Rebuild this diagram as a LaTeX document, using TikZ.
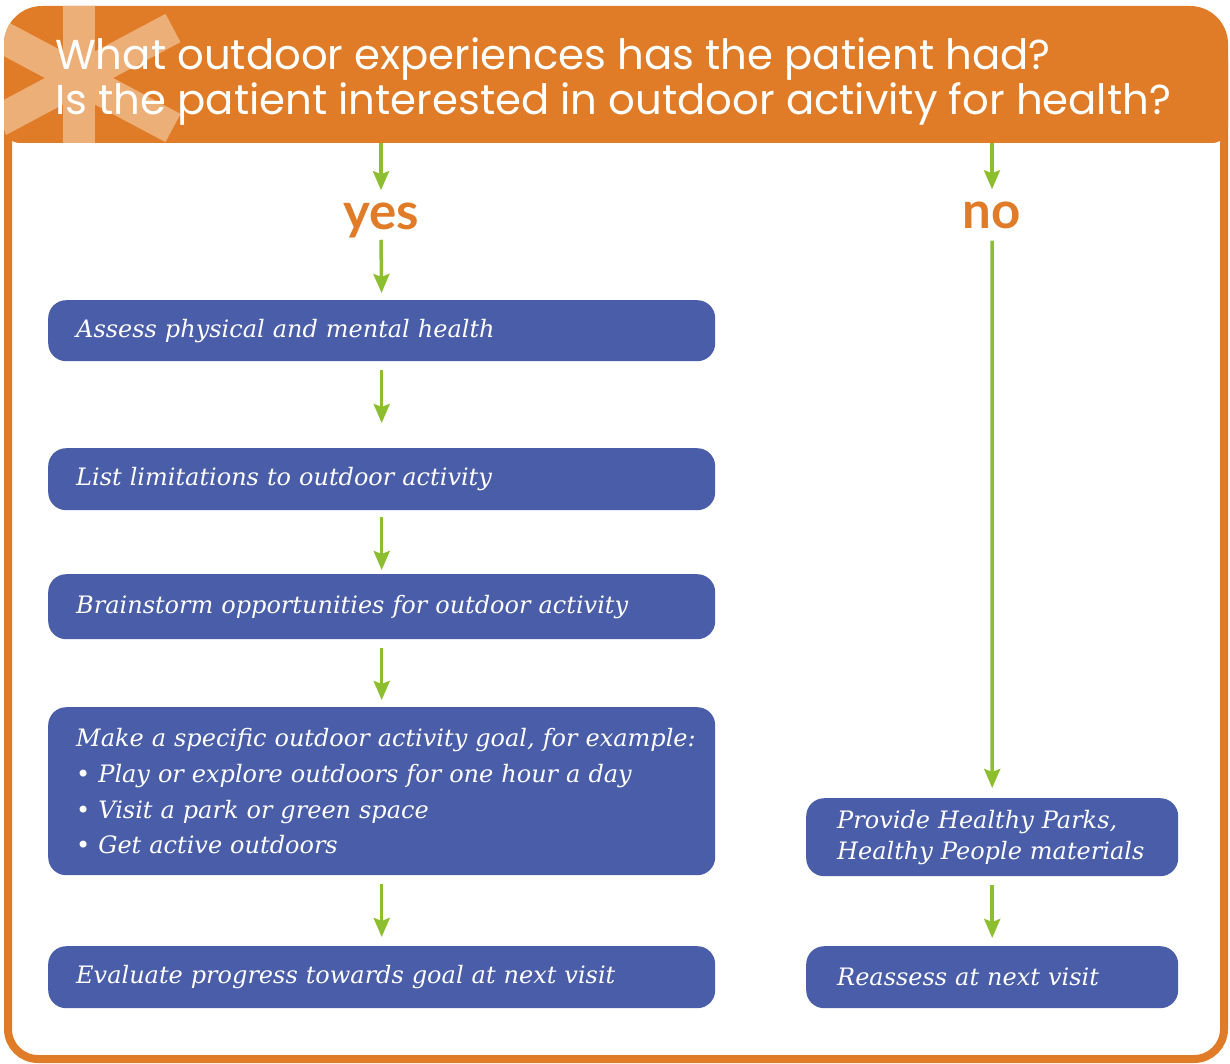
\documentclass[tikz,border=0pt]{standalone}
\usepackage{fontspec}
\setmainfont{DejaVu Serif}
\newfontfamily\headfont{Lato}
\newfontfamily\titlefont{Poppins}
\usetikzlibrary{arrows.meta}
\definecolor{parkorange}{HTML}{E07B27}
\definecolor{starorange}{HTML}{EDAF78}
\definecolor{stepblue}{HTML}{4A5DA8}
\definecolor{arrowgreen}{HTML}{8DBE2F}
\def\headpath{(4,127) -- (4,44) arc[start angle=180,end angle=270,radius=38] -- (1190,6) arc[start angle=270,end angle=360,radius=38] -- (1228,127) arc[start angle=0,end angle=90,radius=16] -- (20,143) arc[start angle=90,end angle=180,radius=16] -- cycle}

\begin{document}
\begin{tikzpicture}[x=1pt,y=-1pt,
  stepbox/.style={fill=stepblue,text=white,rounded corners=18pt,anchor=north west,align=left,
    inner ysep=0pt,font=\itshape\fontsize{24}{35.7}\selectfont},
  go/.style={draw=arrowgreen,line width=3.5pt,-{Stealth[length=19pt,width=16pt,inset=3pt]}},
  answer/.style={text=parkorange,inner sep=0pt,font=\headfont\bfseries\fontsize{51}{51}\selectfont}]

\useasboundingbox (0,0) rectangle (1230,1064);

% frame and header:
\draw[parkorange,line width=8pt,rounded corners=30pt] (8,60) -- (8,1059) -- (1224,1059) -- (1224,60);
\fill[parkorange] \headpath;
\begin{scope}
\clip \headpath;
\draw[starorange,line width=32pt] (79,0) -- (79,150);
\draw[starorange,line width=32pt] (-15,128) -- (173,28);
\draw[starorange,line width=32pt] (-15,28) -- (173,128);
\end{scope}
\node[anchor=base west,inner sep=0pt,text=white,align=left,font=\titlefont\fontsize{41.8}{45}\selectfont] (title) at (55,115)
  {What outdoor experiences has the patient had?\\Is the patient interested in outdoor activity for health?};
\coordinate (yesin) at (381,143);
\coordinate (noin) at (992,143);

% answers:
\node[answer] (yes) at (381,220) {yes};
\node[answer] (no) at (992,215) {no};

% steps:
\node[stepbox,minimum width=667pt,text width=611pt,inner xsep=28pt,minimum height=61pt] (assess) at (48,300) {Assess physical and mental health};
\node[stepbox,minimum width=667pt,text width=611pt,inner xsep=28pt,minimum height=62pt] (limits) at (48,448) {List limitations to outdoor activity};
\node[stepbox,minimum width=667pt,text width=611pt,inner xsep=28pt,minimum height=65pt] (brainstorm) at (48,574) {Brainstorm opportunities for outdoor activity};
\node[stepbox,minimum width=667pt,text width=611pt,inner xsep=28pt,minimum height=168pt] (goal) at (48,707)
  {\mbox{Make a specific outdoor activity goal, for example:}\\• Play or explore outdoors for one hour a day\\• Visit a park or green space\\• Get active outdoors};
\node[stepbox,minimum width=667pt,text width=611pt,inner xsep=28pt,minimum height=62pt] (evaluate) at (48,946) {Evaluate progress towards goal at next visit};
\node[stepbox,minimum width=372pt,text width=310pt,inner xsep=31pt,minimum height=78pt,font=\itshape\fontsize{24}{31}\selectfont] (provide) at (806,798)
  {Provide Healthy Parks,\\Healthy People materials};
\node[stepbox,minimum width=372pt,text width=310pt,inner xsep=31pt,minimum height=62pt] (reassess) at (806,946) {Reassess at next visit};

% arrows:
\draw[go,shorten >=12pt] (yesin) -- (yes.north);
\draw[go,shorten <=2pt,shorten >=7pt] (yes.south) -- (assess.north);
\draw[go,shorten <=9pt,shorten >=25pt] (assess.south) -- (limits.north);
\draw[go,shorten <=7pt,shorten >=4pt] (limits.south) -- (brainstorm.north);
\draw[go,shorten <=9pt,shorten >=7pt] (brainstorm.south) -- (goal.north);
\draw[go,shorten <=9pt,shorten >=9pt] (goal.south) -- (evaluate.north);
\draw[go,shorten >=12pt] (noin) -- (no.north);
\draw[go,shorten <=12pt,shorten >=10pt] (no.south) -- (provide.north);
\draw[go,shorten <=9pt,shorten >=8pt] (provide.south) -- (reassess.north);

\end{tikzpicture}
\end{document}
